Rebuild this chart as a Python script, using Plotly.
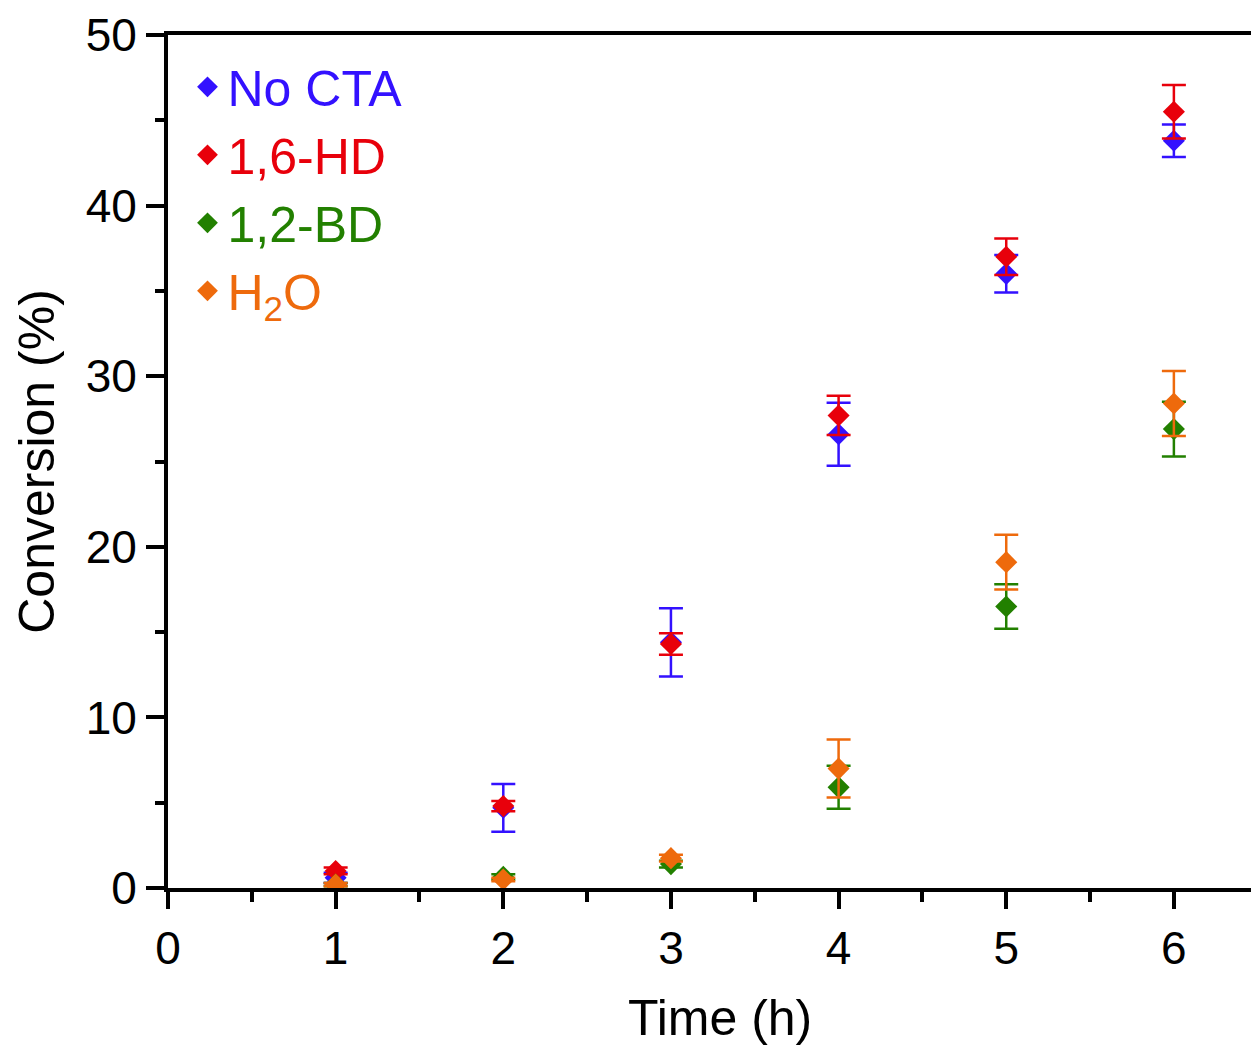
import plotly.graph_objects as go

time_h = [1, 2, 3, 4, 5, 6]

no_cta = [0.6, 4.7, 14.4, 26.6, 36.0, 43.8]
no_cta_err = [0.3, 1.4, 2.0, 1.85, 1.1, 0.95]

hd16 = [1.0, 4.8, 14.3, 27.7, 37.0, 45.5]
hd16_err = [0.2, 0.3, 0.63, 1.15, 1.07, 1.57]

bd12 = [0.2, 0.65, 1.4, 5.9, 16.5, 26.9]
bd12_err = [0.1, 0.15, 0.2, 1.26, 1.3, 1.6]

h2o = [0.2, 0.5, 1.75, 7.0, 19.1, 28.4]
h2o_err = [0.1, 0.1, 0.2, 1.7, 1.6, 1.9]

series = [
    ("No CTA", no_cta, no_cta_err, "#3311FF"),
    ("1,6-HD", hd16, hd16_err, "#E8000B"),
    ("1,2-BD", bd12, bd12_err, "#228000"),
    ("H<sub>2</sub>O", h2o, h2o_err, "#EE6A0C"),
]

FONT = "Liberation Sans, Arial, sans-serif"

fig = go.Figure()
for name, vals, errs, col in series:
    fig.add_trace(go.Scatter(
        x=time_h, y=vals, mode="markers",
        name=f"<span style='color:{col}'>{name}</span>",
        marker=dict(symbol="diamond", size=17, color=col),
        error_y=dict(type="data", array=errs, visible=True, color=col,
                     thickness=2.5, width=12),
    ))

fig.update_layout(
    width=1251, height=1046,
    margin=dict(l=168, r=0, t=35, b=158),
    plot_bgcolor="white", paper_bgcolor="white",
    font=dict(family=FONT, color="black", size=46),
    legend=dict(x=0.018, y=0.985, xanchor="left", yanchor="top",
                font=dict(size=50, family=FONT), bgcolor="rgba(0,0,0,0)",
                itemwidth=30, tracegroupgap=0),
    showlegend=True,
    annotations=[dict(text="Time (h)", xref="paper", yref="paper",
                      x=0.5097, y=-0.1524, xanchor="center", yanchor="middle",
                      showarrow=False, font=dict(size=50, family=FONT, color="black"))],
)

fig.update_xaxes(
    range=[0, 6.46], tickmode="array", tickvals=[0, 1, 2, 3, 4, 5, 6],
    ticktext=["0", "1", "2", "3", "4", "5", "6"],
    showline=True, linecolor="black", linewidth=4, mirror=True,
    ticks="outside", ticklen=17, tickwidth=4, tickcolor="black",
    minor=dict(dtick=0.5, tick0=0, ticks="outside", ticklen=10, tickwidth=4, tickcolor="black"),
    showgrid=False, zeroline=False,
    tickfont=dict(size=46),
)
fig.update_yaxes(
    range=[0, 50], tickmode="array", tickvals=[0, 10, 20, 30, 40, 50],
    ticktext=["0", "10", "20", "30", "40", "50"],
    showline=True, linecolor="black", linewidth=4,
    ticks="outside", ticklen=18, tickwidth=4, tickcolor="black",
    minor=dict(dtick=5, tick0=0, ticks="outside", ticklen=9, tickwidth=4, tickcolor="black"),
    showgrid=False, zeroline=False,
    tickfont=dict(size=46),
    title=dict(text="Conversion (%)", font=dict(size=50), standoff=16),
)

fig.write_html("out.html", config={"displayModeBar": False},
               post_script="document.body.style.margin='0';document.body.style.overflow='hidden';")
